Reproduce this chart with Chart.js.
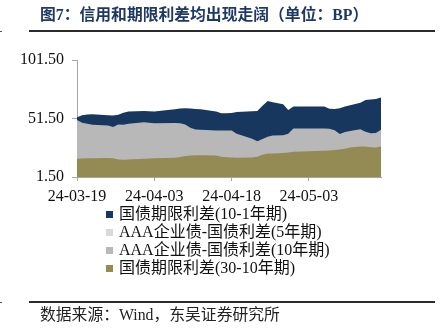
<!DOCTYPE html>
<html>
<head>
<meta charset="utf-8">
<script src="https://cdn.jsdelivr.net/npm/chart.js@4/dist/chart.umd.min.js"></script>
<style>
  html, body { margin: 0; padding: 0; background: #fff; }
  body { width: 445px; height: 328px; position: relative; overflow: hidden;
         font-family: "Liberation Serif", "Noto Sans CJK SC", serif; }
  #wrap { position: absolute; left: 0; top: 0; width: 445px; height: 328px; }
  .title { position: absolute; left: 40px; top: 5px; font-size: 15.8px; line-height: 20px;
           font-weight: bold; color: #1F3864; white-space: nowrap; }
  .rule { position: absolute; left: 29px; width: 406px; height: 2px; background: #2b2b2b; }
  .nick { position: absolute; left: 0; width: 2px; height: 1px; background: #555; }
  .source { position: absolute; left: 40px; top: 305px; font-size: 15.8px; line-height: 20px;
            color: #222; white-space: nowrap; }
  #legend { position: absolute; left: 106px; top: 205px; }
  .item { height: 18px; line-height: 18px; font-size: 16px; color: #111; white-space: nowrap; position: relative; }
  .sw { position: absolute; left: 0; top: 6px; width: 7px; height: 7px; }
  .lbl { position: absolute; left: 13px; top: 0; }
</style>
</head>
<body>
<div id="wrap"><canvas id="c" width="445" height="328"></canvas></div>
<div class="title">图7：信用和期限利差均出现走阔（单位：BP）</div>
<div class="rule" style="top:30px"></div>
<div class="nick" style="top:31px"></div>
<div class="rule" style="top:301px"></div>
<div class="nick" style="top:302px"></div>
<div id="legend"></div>
<div class="source">数据来源：Wind，东吴证券研究所</div>
<script>
// Trading dates of the sample
const dates = [
  '2024-03-19','2024-03-20','2024-03-21','2024-03-22','2024-03-25','2024-03-26','2024-03-27','2024-03-28','2024-03-29',
  '2024-04-01','2024-04-02','2024-04-03','2024-04-07','2024-04-08','2024-04-09','2024-04-10','2024-04-11','2024-04-12',
  '2024-04-15','2024-04-16','2024-04-17','2024-04-18','2024-04-19','2024-04-22','2024-04-23','2024-04-24','2024-04-25',
  '2024-04-26','2024-04-28','2024-04-29','2024-04-30',
  '2024-05-06','2024-05-07','2024-05-08','2024-05-09','2024-05-10','2024-05-11','2024-05-13','2024-05-14','2024-05-15',
  '2024-05-16','2024-05-17'
];

// Spreads in BP
const termSpread10y1y = [
  52.5, 54.2, 55, 55.2, 54.3, 54, 54.8, 56.5, 57.5,
  58, 57.8, 57.5, 59.3, 60, 60.3, 60, 59.7, 59.5, 57.5, 56, 56, 56.3, 57, 57.6, 58, 62.5, 66.5, 65.4, 63.7, 58.8, 61.7,
  61.7, 59.8, 59.7, 60.3, 61.7, 62.8, 65, 67.3, 67.8, 68.2, 69.5
];
const creditSpreadAAA5y = [
  46, 43.5, 43, 42.5, 42, 41, 42.8, 42.5, 43.2,
  44, 43.8, 43.5, 43.5, 43.2, 42.5, 40, 38.5, 38.2, 37.8, 37.6, 37.5, 37.4, 35.2, 31, 29.2, 30.8, 32.6, 33.5, 33.8, 35, 39,
  39.2, 39, 37.8, 35, 36.5, 37.2, 38.6, 36.7, 35.6, 35.8, 38
];
const creditSpreadAAA10y = [
  50.3, 47.8, 47, 46.2, 45.6, 44.2, 46.4, 46.2, 47,
  48.2, 47.8, 47.5, 47.6, 47.4, 46.4, 43.6, 42, 41.8, 41.3, 41.3, 41.3, 41.2, 38.5, 34.1, 32, 34, 36, 37, 37.2, 38.5, 43,
  43, 42.8, 41.5, 38.3, 40, 40.8, 42.4, 40.2, 39, 39.2, 41.8
];
const termSpread30y10y = [
  17, 17.3, 17.5, 17.6, 17.8, 17.6, 16.5, 16.2, 16.5,
  17, 17.3, 17.6, 18, 18.5, 19.5, 19.9, 20, 20, 19.8, 18.8, 18.3, 18.2, 18, 18.2, 18.8, 20.5, 21.5, 21.6, 22, 22.5, 23,
  24, 24.2, 24.6, 25, 25.6, 26.7, 27.5, 27.6, 27, 26.8, 27.6
];

const seriesNames = ['国债期限利差(10-1年期)', 'AAA企业债-国债利差(5年期)', 'AAA企业债-国债利差(10年期)', '国债期限利差(30-10年期)'];
const seriesColors = ['#17375E', '#D9D9D9', '#B8B8B8', '#948A54'];
const seriesValues = [termSpread10y1y, creditSpreadAAA5y, creditSpreadAAA10y, termSpread30y10y];

const xTickLabels = ['24-03-19', '24-04-03', '24-04-18', '24-05-03'];
const yTickValues = [1.5, 51.5, 101.5];

// Date axis: positions are calendar days since the first date
const dayMs = 86400000;
const toUtc = s => { const p = s.split('-').map(Number); return Date.UTC(p[0], p[1] - 1, p[2]); };
const t0 = toUtc(dates[0]);
const dayOf = s => Math.round((toUtc(s) - t0) / dayMs);
const xTickDays = xTickLabels.map(l => dayOf('20' + l));
const tickText = {};
xTickDays.forEach((d, i) => { tickText[d] = xTickLabels[i]; });

const datasets = seriesNames.map((name, i) => ({
  label: name,
  data: dates.map((d, k) => ({ x: dayOf(d), y: seriesValues[i][k] })),
  backgroundColor: seriesColors[i],
  borderColor: seriesColors[i],
  borderWidth: 0,
  pointRadius: 0,
  tension: 0,
  fill: 'origin',
  order: seriesNames.length - i   // first series sits at the back
}));

const axisColor = '#A6A6A6';
const tickFont = { family: "'Liberation Serif', 'Times New Roman', serif", size: 16 };

new Chart(document.getElementById('c'), {
  type: 'line',
  data: { datasets },
  options: {
    responsive: false,
    animation: false,
    events: [],
    layout: { padding: { left: 0, top: 60, right: 64, bottom: 126 } },
    plugins: { legend: { display: false }, tooltip: { enabled: false } },
    scales: {
      x: {
        type: 'linear',
        min: 0,
        max: dayOf(dates[dates.length - 1]),
        afterBuildTicks: s => { s.ticks = xTickDays.map(v => ({ value: v })); },
        afterFit: s => { s.height = 25; },
        border: { display: true, color: axisColor, width: 1 },
        grid: { drawOnChartArea: false, drawTicks: true, tickLength: 4, color: axisColor },
        ticks: { autoSkip: false, maxRotation: 0, padding: 6, color: '#111', font: tickFont,
                 callback: v => tickText[v] ?? '' }
      },
      y: {
        min: yTickValues[0],
        max: yTickValues[yTickValues.length - 1],
        afterBuildTicks: s => { s.ticks = yTickValues.map(v => ({ value: v })); },
        afterFit: s => { s.width = 77; },
        border: { display: true, color: axisColor, width: 1 },
        grid: { drawOnChartArea: false, drawTicks: true, tickLength: 5, color: axisColor },
        ticks: { padding: 8, color: '#111', font: tickFont, callback: v => Number(v).toFixed(2) }
      }
    }
  }
});

// Legend, one entry per row
const legend = document.getElementById('legend');
seriesNames.forEach((name, i) => {
  const row = document.createElement('div');
  row.className = 'item';
  const sw = document.createElement('span');
  sw.className = 'sw';
  sw.style.background = seriesColors[i];
  const lbl = document.createElement('span');
  lbl.className = 'lbl';
  lbl.textContent = name;
  row.appendChild(sw);
  row.appendChild(lbl);
  legend.appendChild(row);
});
</script>
</body>
</html>
